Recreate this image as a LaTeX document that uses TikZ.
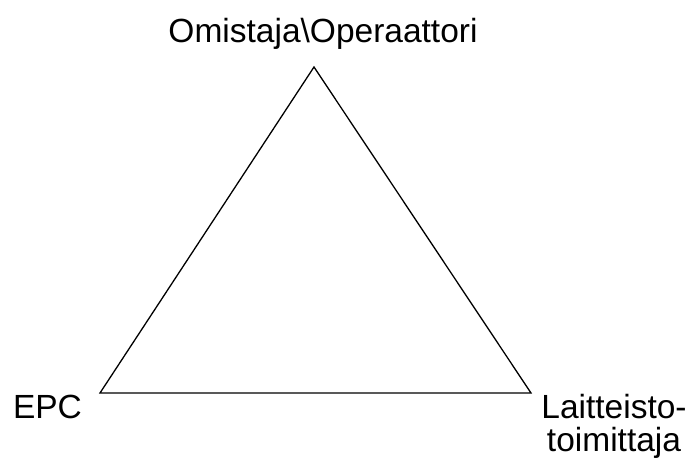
\documentclass[tikz,border=0pt]{standalone}
\usepackage{fontspec}
\setmainfont{Liberation Sans}
\begin{document}
\begin{tikzpicture}[x=1pt,y=-1pt,
  lbl/.style={font=\fontsize{33.5}{34}\selectfont, inner sep=0pt, anchor=base, align=center},
  edge/.style={draw=black, line width=1.3pt, line join=miter}]
\useasboundingbox (0,0) rectangle (689,463);
\coordinate (T) at (314,67);
\coordinate (L) at (100,393);
\coordinate (R) at (531,393);
\draw[edge] (T) -- (L) -- (R) -- cycle;
\node[lbl] (top) at (323,42) {Omistaja\textbackslash Operaattori};
\node[lbl] (epc) at (47.5,418) {EPC};
\node[lbl] (lt1) at (614,418) {Laitteisto-};
\node[lbl] (lt2) at (614,451) {toimittaja};
\end{tikzpicture}
\end{document}
